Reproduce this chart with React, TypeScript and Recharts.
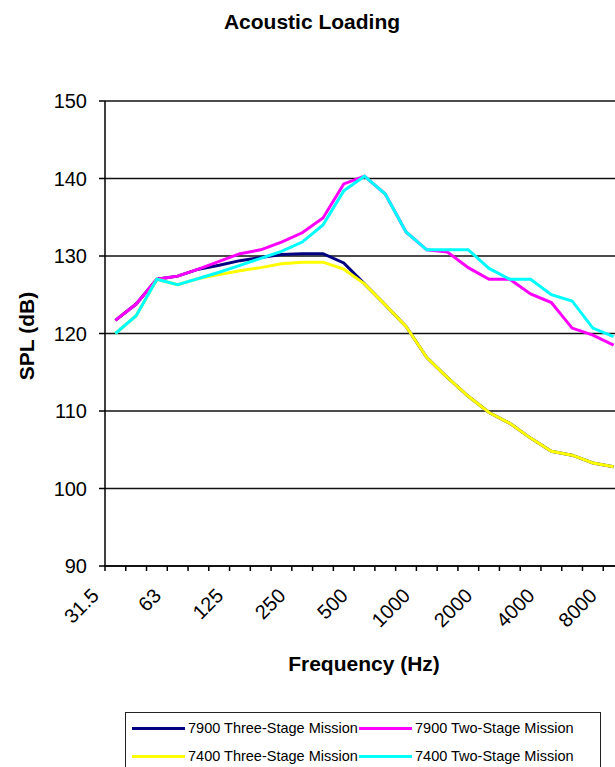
import { LineChart, Line, XAxis, YAxis, CartesianGrid, Legend } from 'recharts';

// 1/3 octave band centre frequencies (Hz)
const FREQS = [
  '31.5', '40', '50', '63', '80', '100', '125', '160', '200', '250', '315', '400', '500',
  '630', '800', '1000', '1250', '1600', '2000', '2500', '3150', '4000', '5000', '6300', '8000',
];

// SPL (dB)
const THREE_STAGE_7900 = [
  121.7, 123.8, 127.0, 127.4, 128.3, 128.8, 129.4, 129.8, 130.2, 130.3, 130.3, 129.1, 126.4,
  123.7, 120.9, 116.9, 114.3, 111.9, 109.8, 108.4, 106.5, 104.8, 104.3, 103.3, 102.8,
];
const TWO_STAGE_7900 = [
  121.7, 123.8, 127.0, 127.4, 128.3, 129.3, 130.3, 130.8, 131.8, 133.0, 134.9, 139.3, 140.3,
  138.0, 133.1, 130.8, 130.5, 128.5, 127.0, 127.0, 125.1, 124.0, 120.7, 119.8, 118.5,
];
const THREE_STAGE_7400 = [
  120.0, 122.3, 127.0, 126.3, 127.1, 127.6, 128.1, 128.5, 129.0, 129.2, 129.2, 128.3, 126.4,
  123.7, 120.9, 116.9, 114.3, 111.9, 109.8, 108.4, 106.5, 104.8, 104.3, 103.3, 102.8,
];
const TWO_STAGE_7400 = [
  120.0, 122.3, 127.0, 126.3, 127.1, 127.9, 128.8, 129.7, 130.6, 131.8, 134.0, 138.4, 140.3,
  138.0, 133.1, 130.8, 130.8, 130.8, 128.4, 127.0, 127.0, 125.0, 124.2, 120.7, 119.6,
];

const Y_TICKS = [90, 100, 110, 120, 130, 140, 150];

// draw order matters: cyan sits on magenta, yellow on navy
const SERIES = [
  { key: 'three7900', name: '7900 Three-Stage Mission', color: '#000080', values: THREE_STAGE_7900 },
  { key: 'two7900', name: '7900 Two-Stage Mission', color: '#FF00FF', values: TWO_STAGE_7900 },
  { key: 'three7400', name: '7400 Three-Stage Mission', color: '#FFFF00', values: THREE_STAGE_7400 },
  { key: 'two7400', name: '7400 Two-Stage Mission', color: '#00FFFF', values: TWO_STAGE_7400 },
];

const chartData = FREQS.map((freq, i) => {
  const row: Record<string, any> = { idx: i, freq };
  SERIES.forEach((s) => {
    row[s.key] = s.values[i];
  });
  return row;
});

// Excel-style category axis: tick marks on the band boundaries
const xTicks = [...FREQS.map((_, i) => i - 0.5), FREQS.length - 0.5];

const FONT = '"Liberation Sans", Arial, sans-serif';

const FreqTick = ({ x, y, payload }: any) => {
  const i = payload.value + 0.5;
  if (i % 3 !== 0 || i >= FREQS.length) return <g />;
  return (
    <g transform={`translate(${x},${y})`}>
      <text
        x={-5}
        y={24}
        textAnchor="end"
        transform="rotate(-45, -5, 24)"
        fontSize={20}
        fontFamily={FONT}
        fill="#000"
      >
        {FREQS[i]}
      </text>
    </g>
  );
};

// legend sorts by name on its own, put it back in series order
const seriesRank = (name: string) => SERIES.findIndex((s) => s.name === name);

const renderLegend = ({ payload }: any) => {
  const items = [...(payload || [])].sort((a: any, b: any) => seriesRank(a.value) - seriesRank(b.value));
  return (
    <div
      style={{
        border: '1.5px solid #222',
        boxSizing: 'border-box',
        width: 476,
        height: 70,
        paddingLeft: 6,
        paddingTop: 1,
        display: 'grid',
        gridTemplateColumns: '227px 227px',
        gridAutoRows: '28px',
        fontFamily: FONT,
        fontSize: 14.5,
        color: '#000',
        background: '#fff',
      }}
    >
      {items.map((entry: any) => (
        <div key={entry.value} style={{ display: 'flex', alignItems: 'center' }}>
          <span style={{ display: 'inline-block', width: 53, height: 3, background: entry.color, marginRight: 3 }} />
          <span>{entry.value}</span>
        </div>
      ))}
    </div>
  );
};

export default function App() {
  return (
    <div
      style={{
        position: 'fixed',
        left: 0,
        top: 0,
        width: 615,
        height: 767,
        overflow: 'hidden',
        background: '#fff',
        fontFamily: FONT,
      }}
    >
      <LineChart
        width={640}
        height={767}
        data={chartData}
        margin={{ top: 101, right: 16, bottom: 91, left: 60 }}
      >
        <CartesianGrid vertical={false} stroke="#111" strokeWidth={1.5} />
        <XAxis
          dataKey="idx"
          type="number"
          domain={[-0.5, FREQS.length - 0.5]}
          ticks={xTicks}
          interval={0}
          height={110}
          tickSize={5}
          axisLine={{ stroke: '#000', strokeWidth: 1.5 }}
          tickLine={{ stroke: '#000', strokeWidth: 1.5 }}
          tick={<FreqTick />}
        />
        <YAxis
          type="number"
          domain={[90, 150]}
          ticks={Y_TICKS}
          interval={0}
          width={45}
          tickSize={6}
          tickMargin={12}
          axisLine={{ stroke: '#000', strokeWidth: 1.5 }}
          tickLine={{ stroke: '#000', strokeWidth: 1.5 }}
          tick={{ fontSize: 20, fill: '#000', fontFamily: FONT }}
        />
        <Legend
          layout="horizontal"
          verticalAlign="middle"
          align="center"
          content={renderLegend}
          wrapperStyle={{ left: 125, top: 712, width: 476, height: 70 }}
        />
        {SERIES.map((s) => (
          <Line
            key={s.key}
            type="linear"
            dataKey={s.key}
            name={s.name}
            stroke={s.color}
            strokeWidth={3}
            dot={false}
            isAnimationActive={false}
          />
        ))}
      </LineChart>

      <div
        style={{
          position: 'absolute',
          left: 0,
          top: 11,
          width: 624,
          textAlign: 'center',
          fontSize: 21,
          fontWeight: 'bold',
          lineHeight: '22px',
        }}
      >
        Acoustic Loading
      </div>
      <div
        style={{
          position: 'absolute',
          left: 27,
          top: 336,
          transform: 'translate(-50%, -50%) rotate(-90deg)',
          whiteSpace: 'nowrap',
          fontSize: 21,
          fontWeight: 'bold',
          lineHeight: '22px',
        }}
      >
        SPL (dB)
      </div>
      <div
        style={{
          position: 'absolute',
          left: 364,
          top: 664,
          transform: 'translate(-50%, -50%)',
          whiteSpace: 'nowrap',
          fontSize: 21,
          fontWeight: 'bold',
          lineHeight: '22px',
        }}
      >
        Frequency (Hz)
      </div>
    </div>
  );
}
